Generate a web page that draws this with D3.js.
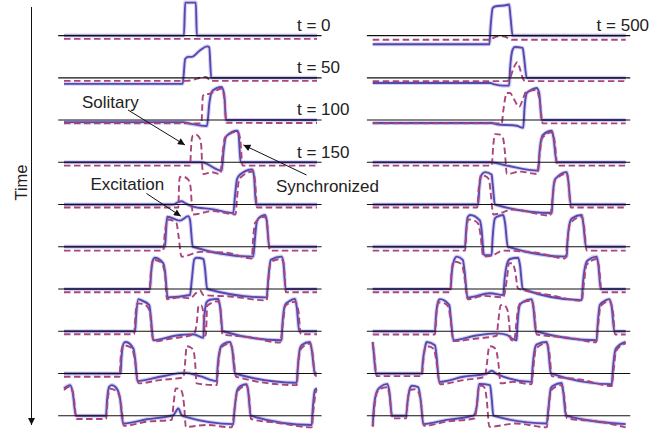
<!DOCTYPE html>
<html>
<head>
<meta charset="utf-8">
<script src="https://cdn.jsdelivr.net/npm/d3@7"></script>
<style>
  body { margin: 0; background: #fff; }
  text { font-family: "Liberation Sans", Arial, Helvetica, sans-serif; fill: #222; }
</style>
</head>
<body>
<svg id="chart" width="665" height="433"></svg>
<script>
// position along the chain (0..100) and amplitude (rest = 0, spike top ~ 1)
const leftSolid = [
  [[0,0],[47.4,0],[47.9,1.1],[52.1,1.1],[52.5,0],[100,0]],
  [[0,-0.2],[46.9,-0.2],[47.9,0.63],[49.1,0.7],[50.5,0.7],[53.8,0.92],[56.6,1.05],[57.4,1.02],[58.2,0],[100,0]],
  [[0,-0.07],[47,-0.07],[49.8,-0.12],[56.5,-0.2],[57.5,0.6],[58.7,0.98],[62.3,1.1],[63.4,0.8],[64,0],[100,0]],
  [[0,0],[54.4,0],[62.3,-0.28],[63.1,0.4],[63.8,0.8],[64.3,0.88],[68.5,1.05],[69,0.95],[69.8,0],[100,0]],
  [[0,0],[43.2,0],[45.1,0.08],[46.5,0.11],[47.8,0.05],[50.5,-0.06],[58.9,-0.16],[66.9,-0.28],[67.6,0.3],[68.4,0.85],[69.6,1.0],[74.4,1.17],[75.1,0.95],[75.9,0],[100,0]],
  [[0,0],[39.9,0],[40.3,0.5],[40.8,1.0],[45.8,0.87],[49.1,1.02],[49.8,0.9],[50.9,0],[74.8,-0.33],[75.5,0.3],[76.2,0.83],[76.9,0.95],[79.4,1.06],[80.1,0.9],[81.1,0],[100,0]],
  [[0,0],[34,0],[34.4,0.5],[35.3,0.99],[35.9,1.04],[39.2,0.86],[39.9,0.6],[41,-0.28],[49.8,-0.2],[50.5,0.3],[51.5,0.99],[52.4,1.04],[55.1,1.0],[55.7,0.7],[56.6,0],[80.1,-0.28],[80.7,0.3],[81.7,0.97],[86,1.08],[86.7,0.9],[87.6,0],[100,0]],
  [[0,0],[28.1,0],[28.5,0.5],[29.4,1.07],[30,1.05],[33.7,0.87],[34.3,0.5],[35.3,-0.3],[43.9,-0.15],[51.1,-0.1],[55.1,-0.22],[55.3,0.3],[56.4,0.97],[57.7,1.05],[61,1.08],[61.7,0.8],[62.7,0],[86,-0.3],[86.3,0.2],[87.4,0.88],[88.7,0.98],[91.3,1.08],[92,0.8],[93,0],[100,0]],
  [[0,0],[22.4,0],[22.7,0.5],[23.7,1.02],[24.5,1.05],[27.4,0.83],[28.1,0.5],[29,-0.25],[37.9,-0.11],[47.8,0.02],[53.8,-0.09],[60.4,-0.25],[60.7,0.2],[62,0.89],[63,0.98],[65.6,1.05],[66.5,0.8],[67.6,0],[92,-0.31],[92.4,0.2],[93.3,0.85],[94,0.95],[97.2,1.05],[97.9,0.8],[99.2,0],[100,0]],
  [[0,0.91],[2.4,1.02],[3.4,0.8],[4.7,0],[16.6,0],[17,0.5],[17.9,0.97],[18.9,1.02],[20.8,0.91],[22.1,0.6],[23.4,-0.26],[32.7,-0.12],[43.2,0.02],[45.2,0.24],[46.5,0.02],[48.5,-0.05],[66.9,-0.28],[67.4,0.2],[68.5,0.86],[69.6,0.98],[72.2,1.05],[72.8,0.8],[73.8,0],[97.9,-0.31],[98.3,0.2],[99.2,0.86],[100,0.91]]
];

const leftDashed = [
  [[0,-0.11],[100,-0.11]],
  [[0,-0.1],[48.5,-0.1],[56.1,0.03],[58,-0.1],[100,-0.1]],
  [[0,-0.11],[54.3,-0.11],[54.9,0.8],[55.7,0.87],[57.3,0.87],[59.7,0.96],[62.3,1.05],[63.4,0.7],[64.2,-0.09],[100,-0.1]],
  [[0,-0.11],[49.8,-0.11],[50.4,0.7],[51,0.9],[52.2,0.92],[53.5,0.83],[54.2,0.6],[54.7,-0.2],[55.1,-0.39],[58.4,-0.33],[61.7,-0.39],[62.7,0.3],[63.6,0.82],[68.5,1.02],[69.6,0.8],[70.6,-0.11],[100,-0.11]],
  [[0,-0.1],[45.2,-0.1],[45.5,0.7],[45.8,0.92],[47,0.93],[49.1,0.83],[50,0.6],[50.6,-0.1],[50.9,-0.33],[58.9,-0.22],[67.8,-0.33],[68.4,0.2],[69.2,0.85],[74.7,1.1],[75.5,0.8],[76.3,-0.1],[100,-0.1]],
  [[0,-0.13],[39.2,-0.13],[39.9,0.5],[41.2,0.91],[42.7,0.88],[44.5,0.78],[45.2,0.4],[46.5,-0.33],[53.8,-0.17],[64.3,-0.2],[74.2,-0.39],[74.7,0.2],[75.5,0.8],[79.4,1.0],[80.2,0.8],[81.4,-0.13],[100,-0.13]],
  [[0,-0.11],[33.7,-0.11],[34.4,0.6],[35.2,0.97],[36.8,0.95],[38.7,0.85],[39.9,0.5],[40.7,-0.34],[45.8,-0.28],[49.8,-0.31],[52.4,-0.12],[53.8,-0.05],[55.1,-0.2],[65.6,-0.25],[80.1,-0.38],[80.8,0.3],[81.7,0.9],[86,1.0],[86.9,0.8],[87.7,-0.11],[100,-0.11]],
  [[0,-0.1],[27.7,-0.1],[28.3,0.6],[29,0.93],[30.4,0.92],[32.8,0.83],[34,0.6],[34.8,-0.1],[35.7,-0.34],[41.9,-0.25],[51.1,-0.11],[52.4,0.2],[53.2,0.86],[54.2,0.86],[55.1,0.6],[55.7,-0.15],[56.1,-0.1],[56.6,0.85],[60.9,1.0],[61.9,0.7],[62.6,-0.1],[73.5,-0.2],[85.4,-0.38],[86.6,0.3],[87.5,0.85],[91.3,0.98],[92.6,0.7],[93.6,-0.1],[100,-0.1]],
  [[0,-0.11],[21.9,-0.11],[22.5,0.6],[23.3,0.94],[24.9,0.92],[26.9,0.83],[28.1,0.4],[29.4,-0.33],[37.9,-0.22],[47.2,-0.13],[47.8,0.3],[48.5,0.91],[49.8,0.88],[51.1,0.78],[51.8,0.4],[52.4,-0.33],[60.4,-0.39],[60.9,0.2],[62,0.85],[65.6,1.0],[66.8,0.7],[68,-0.11],[92,-0.39],[92.5,0.2],[93.5,0.8],[97.2,1.0],[98.2,0.7],[99.2,-0.05],[100,-0.1]],
  [[0,0.86],[2.4,0.97],[3.7,0.7],[5,-0.11],[16.6,-0.11],[17.2,0.5],[18.2,0.9],[20.2,0.85],[21.5,0.75],[22.5,0.4],[23.7,-0.34],[32.7,-0.2],[42.6,-0.14],[43.2,0.3],[44.2,0.91],[45.5,0.9],[46.6,0.8],[47.4,0.4],[48.2,-0.37],[56.4,-0.31],[66.3,-0.39],[67.4,0.2],[68.5,0.8],[72.2,1.0],[73.1,0.7],[73.9,-0.11],[85.4,-0.25],[97.9,-0.39],[98.6,0.2],[99.6,0.8],[100,0.86]]
];

const rightSolid = [
  [[0,-0.29],[46.1,-0.29],[46.6,0.3],[47.4,0.91],[48.3,0.97],[53,1.02],[53.9,1.04],[54.5,0.6],[55.3,0],[100,0]],
  [[0,-0.17],[46.4,-0.17],[48.3,-0.22],[51.6,-0.26],[53.9,-0.26],[54.3,0.3],[55.3,0.94],[56.2,1.03],[59.3,1.0],[59.8,0.7],[60.9,0],[100,0]],
  [[0,-0.1],[47,-0.1],[49,-0.14],[56.9,-0.19],[59.5,-0.26],[60,0.4],[60.9,0.9],[62.2,0.98],[64.8,1.07],[65.8,0.9],[66.8,0],[100,0]],
  [[0,0],[46.4,0],[53,-0.11],[65.5,-0.28],[65.9,0.3],[66.9,0.85],[67.4,0.92],[70.8,1.05],[71.5,0.8],[72.7,0],[100,0]],
  [[0,0],[41.7,0],[42.1,0.5],[43.1,1.0],[44.4,1.08],[47,1.0],[47.4,0.7],[48.3,0],[70.8,-0.28],[71.1,0.2],[72,0.83],[72.7,0.9],[76.7,1.08],[77.3,0.8],[78.3,0],[100,0]],
  [[0,0],[36.5,0],[36.9,0.5],[37.5,0.98],[38.5,1.06],[42.4,0.87],[43,0.6],[44,-0.28],[47,-0.28],[47.4,0.3],[48.3,0.94],[49.1,1.0],[51.6,1.06],[52.3,0.8],[53.4,0],[76.7,-0.33],[77,0.2],[78,0.83],[78.8,0.95],[82.6,1.06],[83.2,0.8],[84.3,0],[100,0]],
  [[0,0],[30.8,0],[31.2,0.5],[32.3,0.99],[33.2,1.08],[35.6,0.97],[36.3,0.6],[37.5,-0.28],[46.4,-0.14],[51.6,-0.2],[52.1,0.3],[53.4,0.91],[54.3,1.0],[57.5,1.04],[58.2,0.8],[59.3,0],[82.6,-0.37],[83.1,0.2],[84.3,0.86],[85.2,0.97],[88.5,1.08],[89.2,0.8],[90.1,0],[100,0]],
  [[0,0],[24.6,0],[25,0.5],[26.1,1.04],[26.6,1.07],[30.3,0.87],[30.8,0.5],[31.9,-0.3],[40.4,-0.15],[49,-0.07],[53,-0.12],[55.1,-0.25],[56.9,-0.3],[57.2,0.2],[58.2,0.88],[59.5,0.98],[62.8,1.07],[63.5,0.8],[64.5,0],[88.5,-0.3],[88.9,0.2],[89.8,0.88],[91.1,0.98],[93.5,1.07],[94.5,0.8],[95.5,0],[100,0]],
  [[0,1.05],[0.3,0.8],[1.3,0],[19.4,0],[19.8,0.4],[20.8,0.92],[21.3,1.05],[24.6,0.94],[25.2,0.6],[26.3,-0.28],[35.8,-0.11],[45.1,0],[47,0.09],[49,-0.01],[62.8,-0.28],[63.2,0.2],[64.3,0.89],[64.9,0.97],[68.8,1.05],[69.4,0.8],[70.4,0],[94.5,-0.36],[94.9,0.1],[95.9,0.78],[96.6,0.88],[100,1.05]],
  [[0,-0.34],[0.5,0.3],[1.6,0.8],[2.9,0.95],[5.8,1.06],[6.6,0.8],[7.6,0],[13.2,0],[13.7,0.4],[14.7,0.91],[15.5,1.0],[18,0.95],[19,0.5],[20,-0.28],[29.2,-0.14],[39.8,0],[41.1,0.3],[42.1,1.06],[46.4,1.02],[47,0.6],[47.7,0],[68.8,-0.26],[69.4,0.2],[70.4,0.91],[71.3,1.0],[74.7,1.09],[75.3,0.8],[76.4,0],[100,-0.28]]
];

const rightDashed = [
  [[0,-0.14],[46.1,-0.14],[49,-0.03],[51.6,-0.02],[55.3,-0.14],[100,-0.14]],
  [[0,-0.11],[53,-0.11],[54.3,0],[55.8,0.35],[57.2,0.52],[58.2,0.3],[59.5,-0.05],[60.2,-0.11],[100,-0.11]],
  [[0,-0.11],[51,-0.11],[51.6,0.3],[53,0.9],[54.3,0.9],[55.8,0.7],[57.9,0.44],[59.5,0.73],[60.6,0.95],[64.8,1.0],[65.9,0.7],[67.2,-0.11],[100,-0.11]],
  [[0,-0.11],[47,-0.11],[47.7,0.6],[48.3,0.94],[49.9,0.93],[51.5,0.8],[52.3,0.3],[53,-0.39],[58.2,-0.31],[64.8,-0.39],[65.9,0.2],[66.9,0.8],[70.8,1.0],[71.9,0.7],[73,-0.11],[100,-0.11]],
  [[0,-0.1],[41.3,-0.1],[42,0.6],[42.8,0.97],[44.4,0.95],[46,0.83],[46.6,0.4],[47.7,-0.33],[55.6,-0.17],[70.1,-0.37],[71.1,0.2],[72,0.8],[76.7,1.03],[77.4,0.7],[78.3,-0.1],[100,-0.1]],
  [[0,-0.13],[36.5,-0.13],[37.1,0.6],[37.8,0.91],[39.2,0.9],[41.6,0.78],[42.6,0.4],[43.7,-0.33],[47,-0.3],[51.6,-0.13],[64.8,-0.2],[76,-0.39],[77,0.2],[78,0.78],[82.6,1.0],[83.5,0.7],[84.6,-0.13],[100,-0.13]],
  [[0,-0.11],[30.6,-0.11],[31.2,0.6],[31.9,0.91],[33.3,0.9],[35.3,0.8],[36.3,0.4],[37.5,-0.34],[43.7,-0.23],[51.6,-0.28],[53,0.3],[53.9,0.86],[55.1,0.86],[56.3,0.6],[57.4,0.02],[60.2,-0.05],[70.1,-0.2],[82.6,-0.39],[83.5,0.2],[84.5,0.8],[88.5,1.0],[89.5,0.7],[90.5,-0.11],[100,-0.11]],
  [[0,-0.11],[24.6,-0.11],[25.2,0.6],[26.1,0.96],[27.4,0.95],[29.8,0.83],[30.8,0.4],[31.9,-0.33],[40.4,-0.25],[49,-0.15],[49.6,0.3],[50.6,0.87],[51.9,0.87],[53.3,0.7],[53.9,0.3],[54.6,-0.28],[55.9,-0.33],[56.7,0.2],[57.6,0.8],[58.6,0.95],[62.8,1.02],[63.8,0.7],[64.8,-0.11],[78,-0.22],[88.3,-0.37],[89.1,0.2],[90,0.83],[93.5,1.0],[94.9,0.7],[95.8,-0.11],[100,-0.11]],
  [[0,1.0],[0.5,0.7],[1.6,-0.09],[19.4,-0.09],[20.1,0.5],[20.9,0.89],[22.3,0.9],[24.2,0.8],[25.2,0.4],[26.6,-0.36],[35.8,-0.22],[44.4,-0.11],[45.1,0.3],[46.1,0.91],[47.2,0.9],[48.7,0.8],[49.6,0.4],[50.6,-0.33],[55.5,-0.28],[62.8,-0.36],[63.5,0.2],[64.5,0.83],[68.8,1.0],[69.8,0.7],[70.8,-0.09],[82,-0.2],[94.5,-0.42],[95.2,0.1],[96.2,0.75],[100,1.0]],
  [[0,-0.37],[0.7,0.3],[1.7,0.78],[3.3,0.9],[5.7,0.95],[6.6,0.7],[7.8,-0.09],[13.2,-0.09],[13.8,0.5],[14.7,0.85],[16.7,0.88],[18.3,0.75],[19.1,0.4],[20.3,-0.34],[29.2,-0.2],[40.4,-0.09],[41.1,0.3],[42.1,1.0],[43.2,1.0],[44.4,0.9],[45.1,0.5],[46.1,-0.37],[56.6,-0.26],[68.8,-0.39],[69.5,0.2],[70.5,0.85],[74.7,1.02],[75.6,0.7],[76.8,-0.09],[89.8,-0.2],[100,-0.39]]
];

const leftLabels = ['t = 0', 't = 50', 't = 100', 't = 150'];
const rightLabels = ['t = 500'];

const annotations = [
  { text: 'Solitary', tx: 82, ty: 108, from: [128, 110], col: 0, row: 3, at: [47.8, 0.58] },
  { text: 'Synchronized', tx: 276, ty: 191.5, from: [306.5, 175], col: 0, row: 3, at: [70.9, 0.58] },
  { text: 'Excitation', tx: 90.5, ty: 189.5, from: [146.5, 193.5], col: 0, row: 5, at: [46.2, 1.02] }
];

const svg = d3.select('#chart');

const solidColor = '#5549b0';
const dashColor = '#aa457c';

const rowY = d3.scaleLinear().domain([0, 9]).range([35.6, 415.7]);
const amp = d3.scaleLinear().domain([0, 1]).range([0, -30]);

const xLeft = d3.scaleLinear().domain([0, 100]).range([64, 317]);
const xRight = d3.scaleLinear().domain([0, 100]).range([372.7, 625.7]);

const columns = [
  { x: xLeft, solid: leftSolid, dashed: leftDashed, labels: leftLabels, labelAt: 92.1 },
  { x: xRight, solid: rightSolid, dashed: rightDashed, labels: rightLabels, labelAt: 88.5 }
];

let defs = svg.append('defs');
defs.append('marker')
  .attr('id', 'head')
  .attr('viewBox', '0 0 10 10')
  .attr('refX', 10)
  .attr('refY', 5)
  .attr('markerUnits', 'userSpaceOnUse')
  .attr('markerWidth', 10)
  .attr('markerHeight', 7)
  .attr('orient', 'auto')
  .append('path')
  .attr('d', 'M0,0 L10,5 L0,10 Z')
  .attr('fill', '#111');

columns.forEach((c) => {
  let g = svg.append('g');

  c.solid.forEach((pts, i) => {
    let line = d3.line()
      .x((d) => c.x(d[0]))
      .y((d) => rowY(i) + amp(d[1]))
      .curve(d3.curveMonotoneX);

    // soft halo under the solid trace
    g.append('path')
      .attr('d', line(pts))
      .attr('fill', 'none')
      .attr('stroke', '#b9b2e8')
      .attr('stroke-opacity', 0.6)
      .attr('stroke-width', 4)
      .attr('stroke-linejoin', 'round');

    g.append('path')
      .attr('d', line(pts))
      .attr('fill', 'none')
      .attr('stroke', solidColor)
      .attr('stroke-width', 1.9)
      .attr('stroke-linejoin', 'round');
  });

  c.dashed.forEach((pts, i) => {
    let line = d3.line()
      .x((d) => c.x(d[0]))
      .y((d) => rowY(i) + amp(d[1]))
      .curve(d3.curveMonotoneX);

    g.append('path')
      .attr('d', line(pts))
      .attr('fill', 'none')
      .attr('stroke', dashColor)
      .attr('stroke-width', 1.9)
      .attr('stroke-dasharray', '6.5,3.5')
      .attr('stroke-linejoin', 'round');
  });

  // baselines
  g.selectAll('line.base')
    .data(d3.range(10))
    .enter()
    .append('line')
    .attr('class', 'base')
    .attr('x1', c.x(-2.3))
    .attr('x2', c.x(101.8))
    .attr('y1', (d) => rowY(d))
    .attr('y2', (d) => rowY(d))
    .attr('stroke', '#111')
    .attr('stroke-width', 1.1);

  g.selectAll('text.tlabel')
    .data(c.labels)
    .enter()
    .append('text')
    .attr('class', 'tlabel')
    .attr('x', c.x(c.labelAt))
    .attr('y', (d, i) => rowY(i) - 4.7)
    .attr('font-size', 17)
    .text((d) => d);
});

// annotations
annotations.forEach((a) => {
  let c = columns[a.col];
  let tip = [c.x(a.at[0]), rowY(a.row) + amp(a.at[1])];
  svg.append('line')
    .attr('x1', a.from[0])
    .attr('y1', a.from[1])
    .attr('x2', tip[0])
    .attr('y2', tip[1])
    .attr('stroke', '#111')
    .attr('stroke-width', 1)
    .attr('marker-end', 'url(#head)');
  svg.append('text')
    .attr('x', a.tx)
    .attr('y', a.ty)
    .attr('font-size', 17)
    .text(a.text);
});

// time axis arrow
svg.append('line')
  .attr('x1', 31.5)
  .attr('x2', 31.5)
  .attr('y1', 7)
  .attr('y2', 425)
  .attr('stroke', '#111')
  .attr('stroke-width', 1)
  .attr('marker-end', 'url(#head)');

svg.append('text')
  .attr('transform', 'translate(26.5,182.5) rotate(-90)')
  .attr('text-anchor', 'middle')
  .attr('font-size', 16.5)
  .text('Time');
</script>
</body>
</html>
